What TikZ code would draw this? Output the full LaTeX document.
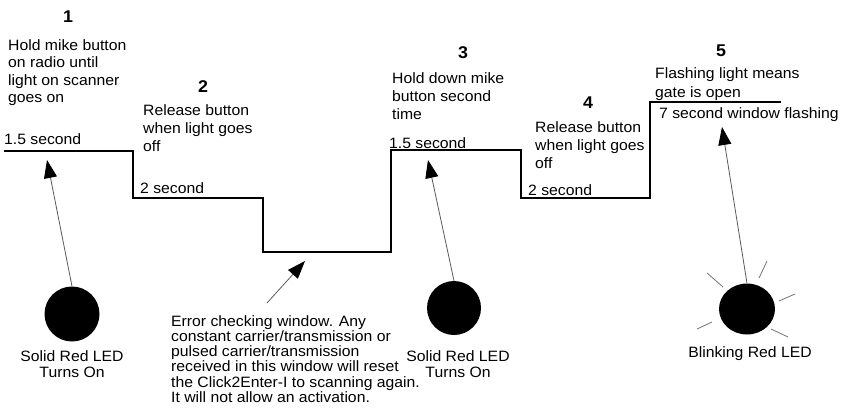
\documentclass[tikz,border=0pt]{standalone}
\usepackage{fontspec}
\setmainfont{Liberation Sans}[FakeStretch=1.05]
\usetikzlibrary{arrows.meta,shapes.geometric}
\tikzset{
  wave/.style={line width=2pt, line join=miter},
  ptr/.style={draw=black!65, line width=0.8pt,
    -{Triangle[length=18pt,width=13pt,fill=black,color=black]}},
  ray/.style={draw=black!55, line width=0.8pt},
  num/.style={font=\fontsize{17}{17}\selectfont\bfseries, inner sep=0pt},
  txt/.style={font=\fontsize{15}{18}\selectfont, align=left, inner sep=0pt, anchor=base west},
  lab/.style={font=\fontsize{15}{16.5}\selectfont, align=center, inner sep=0pt, anchor=base},
  err/.style={font=\fontsize{15}{15.3}\selectfont, align=left, inner sep=0pt, anchor=base west},
  led/.style={circle, fill=black, inner sep=0pt, minimum size=55pt}
}
\begin{document}
\begin{tikzpicture}[x=1pt,y=-1pt]
\useasboundingbox (0,0) rectangle (846,415);
% waveform
\draw[wave] (4,151) -- (133,151) -- (133,198) -- (263,198) -- (263,252) -- (391,252)
  -- (391,150) -- (521,150) -- (521,198) -- (650,198) -- (650,102) -- (781,102);
% step numbers
\node[num] (n1) at (68,17) {1};
\node[num] (n2) at (203,87) {2};
\node[num] (n3) at (463,53) {3};
\node[num] (n4) at (588,103) {4};
\node[num] (n5) at (721,51) {5};
% step texts (anchor = baseline of last line)
\node[txt, font=\fontsize{15}{17.5}\selectfont] (s1) at (8,102.5) {Hold mike button\\on radio until\\light on scanner\\goes on};
\node[txt] (s2) at (143,151) {Release button\\when light goes\\off};
\node[txt] (s3) at (392,119) {Hold down mike\\button second\\time};
\node[txt] (s4) at (535,168) {Release button\\when light goes\\off};
\node[txt, font=\fontsize{15}{19}\selectfont] (s5) at (655,97) {Flashing light means\\gate is open};
% durations
\node[txt] (d1) at (4,144) {1.5 second};
\node[txt] (d2) at (140,193) {2 second};
\node[txt] (d3) at (389,148) {1.5 second};
\node[txt] (d4) at (528,195) {2 second};
\node[txt] (d5) at (659,118) {7 second window flashing};
% LEDs
\node[led] (led1) at (72,314) {};
\node[led, minimum size=54pt] (led2) at (454,308) {};
\node[ellipse, fill=black, inner sep=0pt, minimum width=56pt, minimum height=51pt] (led3) at (747,309) {};
\node[lab] (l1) at (72,377.5) {Solid Red LED\\Turns On};
\node[lab] (l2) at (458,377.5) {Solid Red LED\\Turns On};
\node[lab] (l3) at (750,357) {Blinking Red LED};
% error text
\node[err] (e) at (171,402.5) {Error checking window. Any\\constant carrier/transmission or\\pulsed carrier/transmission\\received in this window will reset\\the Click2Enter-I to scanning again.\\It will not allow an activation.};
% arrow targets
\coordinate (t1) at (47,160);
\coordinate (t2) at (305,261);
\coordinate (e0) at (267,303);
\coordinate (t3) at (428,160);
\coordinate (t4) at (722,127);
\draw[ptr] (led1.north) -- (t1);
\draw[ptr] (e0) -- (t2);
\draw[ptr] (led2.north) -- (t3);
\draw[ptr] (led3.north) -- (t4);
% blinking rays
\draw[ray] (707,273) -- (723,287);
\draw[ray] (767,261) -- (759,278);
\draw[ray] (795,294) -- (779,301);
\draw[ray] (771,329) -- (788,337);
\draw[ray] (712,322) -- (697,329);
\end{tikzpicture}
\end{document}
